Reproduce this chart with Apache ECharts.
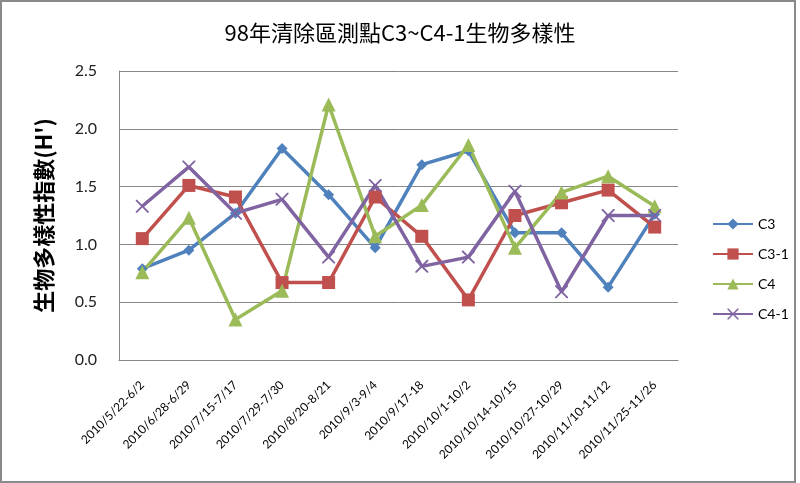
<!DOCTYPE html>
<html><head><meta charset="utf-8">
<script src="https://cdn.jsdelivr.net/npm/echarts@6/dist/echarts.min.js"></script>
<style>html,body{margin:0;padding:0;background:#fff}#c{width:800px;height:483px}</style>
</head><body><div id="c"></div>
<script>
const categories = ['2010/5/22-6/2','2010/6/28-6/29','2010/7/15-7/17','2010/7/29-7/30','2010/8/20-8/21','2010/9/3-9/4','2010/9/17-18','2010/10/1-10/2','2010/10/14-10/15','2010/10/27-10/29','2010/11/10-11/12','2010/11/25-11/26'];
const c3  = [0.79, 0.95, 1.27, 1.83, 1.43, 0.97, 1.69, 1.81, 1.10, 1.10, 0.63, 1.26];
const c3_1 = [1.05, 1.51, 1.41, 0.67, 0.67, 1.41, 1.07, 0.52, 1.25, 1.36, 1.47, 1.15];
const c4  = [0.76, 1.23, 0.35, 0.60, 2.21, 1.07, 1.34, 1.86, 0.97, 1.45, 1.59, 1.33];
const c4_1 = [1.33, 1.67, 1.27, 1.39, 0.89, 1.51, 0.81, 0.89, 1.46, 0.59, 1.25, 1.25];
const seriesNames = ['C3','C3-1','C4','C4-1'];
const yTicks = {min:0, max:2.5, interval:0.5};

const chart = echarts.init(document.getElementById('c'));
const xPath = 'path://M0,0 L2,0 L10,8 L18,0 L20,0 L20,2 L12,10 L20,18 L20,20 L18,20 L10,12 L2,20 L0,20 L0,18 L8,10 L0,2 Z';
const colors = ['#4F81BD','#C0504D','#9BBB59','#8064A2'];
const symbols = ['diamond','rect','triangle',xPath];
const sizes = [11,13,14,13];
const datas = [c3,c3_1,c4,c4_1];
chart.setOption({
  animation:false,
  backgroundColor:'#fff',
  color: colors,
  graphic:[{type:'rect',shape:{x:1,y:1,width:794,height:481},style:{fill:'none',stroke:'#8a8a8a',lineWidth:2},silent:true}],
  title:{text:'98年清除區測點C3~C4-1生物多樣性',left:'center',top:17,
    textStyle:{fontFamily:'Noto Sans CJK TC',fontSize:22,fontWeight:'normal',color:'#000'}},
  legend:{orient:'vertical',left:707,top:212,itemWidth:40,itemHeight:14,itemGap:16,
    textStyle:{fontFamily:'Lato',fontSize:14,color:'#000'},data:seriesNames},
  grid:{left:119,right:122,top:71,bottom:123,containLabel:false},
  xAxis:{type:'category',data:categories,boundaryGap:true,
    axisLine:{lineStyle:{color:'#878787',width:1}},axisTick:{show:false},
    axisLabel:{rotate:45,interval:0,margin:23,fontFamily:'Lato',fontSize:12,color:'#000'}},
  yAxis:{type:'value',min:yTicks.min,max:yTicks.max,interval:yTicks.interval,
    name:'生物多樣性指數(H\')',nameLocation:'middle',nameRotate:90,nameGap:64,
    nameTextStyle:{fontFamily:'Noto Sans CJK TC',fontSize:22,fontWeight:'bold',color:'#000'},
    axisLine:{show:true,lineStyle:{color:'#878787',width:1}},axisTick:{show:false},
    splitLine:{lineStyle:{color:'#878787',width:1}},
    axisLabel:{margin:22,fontFamily:'Lato',fontSize:16,color:'#222',formatter:v=>v.toFixed(1)}},
  series: seriesNames.map((n,i)=>({name:n,type:'line',data:datas[i],symbol:symbols[i],symbolSize:sizes[i],
    showAllSymbol:true,lineStyle:{width:3.5,color:colors[i]},itemStyle:{color:colors[i]}}))
});
</script></body></html>
